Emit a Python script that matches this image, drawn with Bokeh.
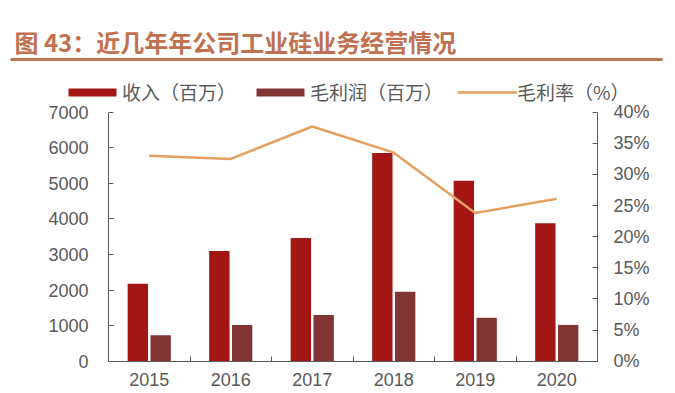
from bokeh.plotting import figure
from bokeh.models import (Range1d, LinearAxis, FixedTicker, NumeralTickFormatter,
                          Legend, LegendItem, Label, BoxAnnotation, ColumnDataSource)
from bokeh.embed import file_html
from bokeh.resources import INLINE
import numpy as np

# ---- data ----
years = ["2015", "2016", "2017", "2018", "2019", "2020"]
revenue = [2180, 3100, 3460, 5850, 5070, 3880]      # 收入（百万）
gross_profit = [730, 1020, 1300, 1950, 1220, 1020]  # 毛利润（百万）
gross_margin = [0.330, 0.325, 0.377, 0.335, 0.238, 0.261]  # 毛利率（%）
left_ticks = [0, 1000, 2000, 3000, 4000, 5000, 6000, 7000]
right_ticks = [0, 0.05, 0.10, 0.15, 0.20, 0.25, 0.30, 0.35, 0.40]
title_text = "图 43：近几年年公司工业硅业务经营情况"

GRAY = "#595959"
CJK = "Noto Sans CJK SC"
NUM = "Liberation Sans"

# ---- layout (pixels) ----
W, H = 675, 393
PX_L, PX_R = 108.0, 597.0      # plot area left / right
PX_T, PX_B = 111.7, 360.7      # plot area top (7000) / bottom (0)
N = len(years)
Y_MAX, P_MAX = 7000.0, 0.40

ux = (PX_R - PX_L) / N          # px per category
uy = (PX_B - PX_T) / Y_MAX      # px per unit (left)
x_range = Range1d(-PX_L / ux, N + (W - PX_R) / ux)
y_lo, y_hi = -(H - PX_B) / uy, Y_MAX + PX_T / uy
y_range = Range1d(y_lo, y_hi)

idx = np.arange(N) + 0.5
src = ColumnDataSource(dict(
    x_rev=idx - 0.14, x_gp=idx + 0.14, x=idx,
    rev=revenue, gp=gross_profit, gm=gross_margin))

p = figure(width=W, height=H, output_backend="svg", toolbar_location=None,
           x_range=x_range, y_range=y_range, min_border=0,
           x_axis_type=None, y_axis_type=None)
p.outline_line_color = None
p.grid.visible = False
p.extra_y_ranges = {"pct": Range1d(y_lo * P_MAX / Y_MAX, y_hi * P_MAX / Y_MAX)}

r_rev = p.vbar(x="x_rev", top="rev", width=0.25, source=src,
               fill_color="#a31616", line_color=None)
r_gp = p.vbar(x="x_gp", top="gp", width=0.25, source=src,
              fill_color="#803434", line_color=None)
r_gm = p.line(x="x", y="gm", source=src, y_range_name="pct",
              line_color="#e3a060", line_width=2.5)

def style(ax, size="18px"):
    ax.axis_line_color = GRAY
    ax.major_tick_line_color = GRAY
    ax.minor_tick_line_color = GRAY
    ax.major_label_text_color = GRAY
    ax.major_label_text_font = NUM
    ax.major_label_text_font_size = size
    ax.major_tick_in = 5
    ax.major_tick_out = 0
    ax.minor_tick_in = 0
    ax.minor_tick_out = 0

xax = LinearAxis(ticker=FixedTicker(ticks=list(idx), minor_ticks=list(range(1, N))),
                 major_label_overrides={float(v): y for v, y in zip(idx, years)},
                 fixed_location=0, bounds=(0, N))
style(xax)
xax.major_tick_in = 0
xax.minor_tick_in = 5
xax.major_label_standoff = 12
p.add_layout(xax, "below")

lax = LinearAxis(ticker=FixedTicker(ticks=left_ticks), fixed_location=0,
                 bounds=(0, Y_MAX))
style(lax)
lax.major_label_standoff = 20
p.add_layout(lax, "left")

rax = LinearAxis(y_range_name="pct", ticker=FixedTicker(ticks=right_ticks),
                 formatter=NumeralTickFormatter(format="0%"), fixed_location=N,
                 bounds=(0, P_MAX))
style(rax)
rax.major_label_standoff = 16
p.add_layout(rax, "right")

legend = Legend(items=[
    LegendItem(label="收入（百万）", renderers=[r_rev]),
    LegendItem(label="毛利润（百万）", renderers=[r_gp]),
    LegendItem(label="毛利率（%）", renderers=[r_gm]),
], orientation="horizontal", location=(62, 288), glyph_width=60, glyph_height=10,
    label_standoff=0, spacing=14, padding=0, margin=0,
    border_line_color=None, background_fill_alpha=0,
    label_text_font=CJK, label_text_font_size="19px", label_text_color=GRAY)
p.add_layout(legend, "center")

p.add_layout(Label(x=14, y=H - 41, x_units="screen", y_units="screen",
                   text=title_text, text_font=CJK, text_font_size="24px",
                   text_font_style="bold", text_color="#c0714f",
                   text_baseline="alphabetic"))

# rule under the title (decoration, placed by pixel position)
def xd(px): return (px - PX_L) / ux
def yd(py): return (PX_B - py) / uy
p.add_layout(BoxAnnotation(left=xd(10), right=xd(662), top=yd(57.5), bottom=yd(60.5),
                           fill_color="#c07552", fill_alpha=1.0, line_color=None))

open("out.html", "w").write(file_html(p, INLINE))
